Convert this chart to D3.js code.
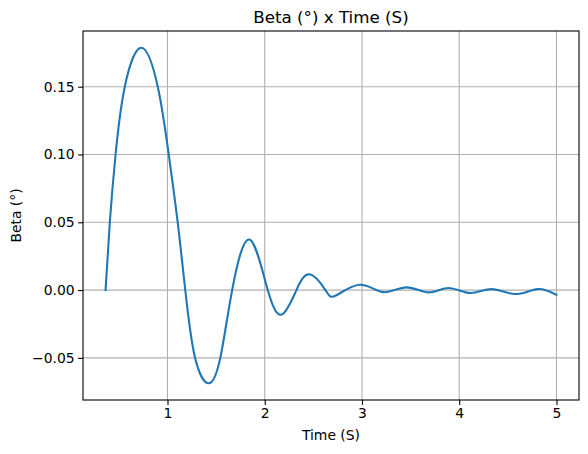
<!DOCTYPE html>
<html>
<head>
<meta charset="utf-8">
<title>Beta x Time</title>
<style>
  body { margin: 0; background: #fff; }
  text { font-family: "DejaVu Sans", sans-serif; fill: #000; }
</style>
</head>
<body>
<script src="https://cdn.jsdelivr.net/npm/d3@7"></script>
<script>
// values
var time = [0.363, 0.407, 0.466, 0.561, 0.730, 0.900, 1.013, 1.105, 1.183,
            1.281, 1.424, 1.545, 1.665, 1.843, 2.031, 2.179, 2.326, 2.4625, 2.624, 2.727, 2.977,
            3.217, 3.456, 3.685, 3.891, 4.114, 4.336, 4.577, 4.806, 5.0];
var beta = [0, 0.050, 0.100, 0.150, 0.1787, 0.150, 0.100, 0.050, 0,
            -0.0491, -0.0687, -0.0493, 0, 0.0373, 0, -0.0179, 0, 0.0116, 0, -0.0042, 0.0039,
            -0.0015, 0.0020, -0.0017, 0.0015, -0.0022, 0.0007, -0.0029, 0.0007, -0.0035];
var xTicks = [1, 2, 3, 4, 5];
var yTicks = [-0.05, 0, 0.05, 0.10, 0.15];

var width = 588, height = 454;
var mLeft = 83, mRight = 579, mTop = 31, mBottom = 400;

var svg = d3.select("body").append("svg")
  .attr("width", width)
  .attr("height", height);

// 5% margins like matplotlib
var xe = d3.extent(time), ye = d3.extent(beta);
var xm = (xe[1] - xe[0]) * 0.05, ym = (ye[1] - ye[0]) * 0.05;
var x = d3.scaleLinear().domain([xe[0] - xm, xe[1] + xm]).range([mLeft, mRight]);
var y = d3.scaleLinear().domain([ye[0] - ym, ye[1] + ym]).range([mBottom, mTop]);

// grid
svg.append("g").selectAll("line").data(xTicks).enter().append("line")
  .attr("x1", function(d) { return x(d); }).attr("x2", function(d) { return x(d); })
  .attr("y1", mTop).attr("y2", mBottom)
  .attr("stroke", "#b0b0b0").attr("stroke-width", 1.1);
svg.append("g").selectAll("line").data(yTicks).enter().append("line")
  .attr("y1", function(d) { return y(d); }).attr("y2", function(d) { return y(d); })
  .attr("x1", mLeft).attr("x2", mRight)
  .attr("stroke", "#b0b0b0").attr("stroke-width", 1.1);

// the curve
var line = d3.line()
  .x(function(d, i) { return x(time[i]); })
  .y(function(d) { return y(d); })
  .curve(d3.curveNatural);
svg.append("path")
  .attr("d", line(beta))
  .attr("fill", "none")
  .attr("stroke", "#1f77b4")
  .attr("stroke-width", 2.08)
  .attr("stroke-linejoin", "round")
  .attr("stroke-linecap", "square");

// axes
var fmt = function(d) { return d3.format(".2f")(d).replace("-", "\u2212"); };
var xAxis = d3.axisBottom(x).tickValues(xTicks).tickSize(4.9).tickPadding(3.5).tickFormat(d3.format("d"));
var yAxis = d3.axisLeft(y).tickValues(yTicks).tickSize(4.9).tickPadding(3.5).tickFormat(fmt);

var gx = svg.append("g").attr("transform", "translate(0," + mBottom + ")").call(xAxis);
var gy = svg.append("g").attr("transform", "translate(" + mLeft + ",0)").call(yAxis);
[gx, gy].forEach(function(g) {
  g.select(".domain").remove();
  g.selectAll(".tick line").attr("stroke", "#000").attr("stroke-width", 1.1);
  g.selectAll(".tick text").attr("font-family", "DejaVu Sans").attr("font-size", "13.9px").attr("fill", "#000");
});

// frame
svg.append("rect")
  .attr("x", mLeft).attr("y", mTop)
  .attr("width", mRight - mLeft).attr("height", mBottom - mTop)
  .attr("fill", "none").attr("stroke", "#000").attr("stroke-width", 1.1);

// labels
svg.append("text")
  .attr("x", (mLeft + mRight) / 2).attr("y", 23)
  .attr("text-anchor", "middle").attr("font-size", "16.7px")
  .text("Beta (°) x Time (S)");
svg.append("text")
  .attr("x", (mLeft + mRight) / 2).attr("y", 440)
  .attr("text-anchor", "middle").attr("font-size", "13.9px")
  .text("Time (S)");
svg.append("text")
  .attr("transform", "translate(21," + ((mTop + mBottom) / 2) + ") rotate(-90)")
  .attr("text-anchor", "middle").attr("font-size", "13.9px")
  .text("Beta (°)");
</script>
</body>
</html>
